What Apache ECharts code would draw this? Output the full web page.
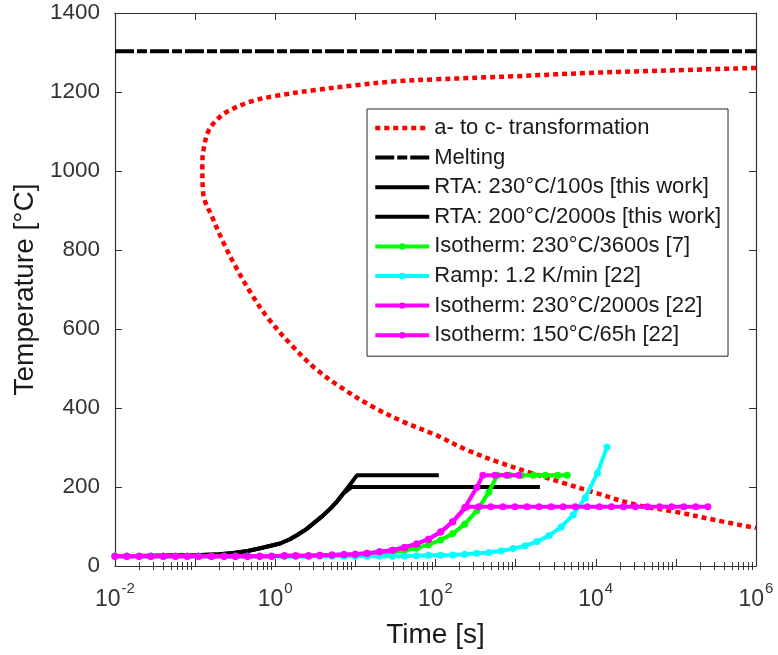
<!DOCTYPE html>
<html><head><meta charset="utf-8">
<script src="https://cdn.jsdelivr.net/npm/echarts@6/dist/echarts.min.js"></script>
<style>html,body{margin:0;padding:0;background:#fff}#c{width:778px;height:655px}</style>
</head><body><div id="c"></div>
<script>
// ---------------- DATA ----------------
const seriesNames = [
  'a- to c- transformation',
  'Melting',
  'RTA: 230°C/100s [this work]',
  'RTA: 200°C/2000s [this work]',
  'Isotherm: 230°C/3600s [7]',
  'Ramp: 1.2 K/min [22]',
  'Isotherm: 230°C/2000s [22]',
  'Isotherm: 150°C/65h [22]'
];

// a- to c- transformation curve (upper branch -> nose -> lower branch)
const transTime = [1e6, 1e5, 1e4, 1000, 100, 31.6, 10, 3.16, 1, 0.5, 0.25, 0.178, 0.145, 0.129, 0.123,
  0.126, 0.166, 0.224, 0.316, 0.5, 0.794, 1.58, 3.16, 6.31, 15.8, 39.8, 100, 251, 631, 1585, 3981, 1e4, 31623, 1e5, 316228, 1e6];
const transTemp = [1261, 1255, 1249, 1240, 1232, 1227, 1217, 1205, 1190, 1176, 1150, 1125, 1099, 1060, 1020,
  944, 880, 820, 760, 690, 630, 560, 500, 455, 405, 365, 332, 293, 262, 235, 210, 185, 155, 137, 116, 96];

const meltTime = [0.01, 1e6];
const meltTemp = [1303, 1303];

const rta230Time = [0.01, 0.1, 0.2, 0.3, 0.45, 0.65, 1.15, 1.5, 1.86, 2.4, 3.0, 3.9, 4.9, 6.0, 7.1, 8.5, 10.5, 110];
const rta230Temp = [25, 27, 30, 33, 38, 45, 57, 67, 78, 92, 108, 127, 146, 165, 184, 205, 230, 230];

const rta200Time = [0.01, 0.1, 0.2, 0.3, 0.45, 0.65, 1.15, 1.5, 1.86, 2.4, 3.0, 3.9, 4.9, 6.0, 7.1, 9.0, 2009];
const rta200Temp = [25, 27, 30, 33, 38, 45, 57, 67, 78, 92, 108, 127, 146, 165, 184, 200, 200];

const iso230_7Time = [0.01, 0.014, 0.02, 0.028, 0.04, 0.057, 0.08, 0.11, 0.16, 0.23, 0.32, 0.45, 0.64, 0.9, 1.3, 1.8, 2.6, 3.6, 5.1, 7.2, 10, 14, 20, 29, 41, 58, 82, 116, 164, 232, 328, 463, 590, 834, 1180, 1670, 2360, 3340, 4400];
const iso230_7Temp = [25, 25, 25, 25, 25, 25, 25, 25, 25, 25, 25, 25, 25, 25, 25, 25, 25, 26, 26, 27, 28, 30, 32, 35, 39, 45, 54, 66, 82, 106, 140, 187, 230, 230, 230, 230, 230, 230, 230];

const rampTime = [0.01, 0.014, 0.02, 0.028, 0.04, 0.057, 0.08, 0.11, 0.16, 0.23, 0.32, 0.45, 0.64, 0.9, 1.3, 1.8, 2.6, 3.6, 5.1, 7.2, 10, 14, 20, 29, 41, 58, 82, 116, 164, 232, 328, 463, 655, 927, 1311, 1854, 2621, 3707, 5243, 7415, 10486, 13800];
const rampTemp = [25, 25, 25, 25, 25, 25, 25, 25, 25, 25, 25, 25, 25, 25, 25, 25, 25, 25, 25, 25, 25, 25, 25, 25, 25, 26, 27, 27, 28, 30, 32, 34, 38, 44, 51, 62, 77, 99, 130, 173, 235, 301];

const iso230_22Time = [0.01, 0.014, 0.02, 0.028, 0.04, 0.057, 0.08, 0.11, 0.16, 0.23, 0.32, 0.45, 0.64, 0.9, 1.3, 1.8, 2.6, 3.6, 5.1, 7.2, 10, 14, 20, 29, 41, 58, 82, 116, 164, 232, 328, 390, 550, 776, 1100];
const iso230_22Temp = [25, 25, 25, 25, 25, 25, 25, 25, 25, 25, 25, 25, 25, 25, 26, 26, 26, 27, 28, 29, 30, 32, 36, 40, 47, 56, 68, 86, 112, 148, 199, 230, 230, 230, 230];

const iso150Time = [0.01, 0.014, 0.02, 0.028, 0.04, 0.057, 0.08, 0.11, 0.16, 0.23, 0.32, 0.45, 0.64, 0.9, 1.3, 1.8, 2.6, 3.6, 5.1, 7.2, 10, 14, 20, 29, 41, 58, 82, 116, 164, 245, 346, 490, 693, 980, 1386, 1960, 2772, 3920, 5544, 7840, 11088, 15680, 22176, 31360, 44352, 62720, 88704, 125440, 177408, 250880];
const iso150Temp = [25, 25, 25, 25, 25, 25, 25, 25, 25, 25, 25, 25, 25, 25, 26, 26, 26, 27, 28, 29, 30, 32, 36, 40, 47, 56, 68, 86, 112, 150, 150, 150, 150, 150, 150, 150, 150, 150, 150, 150, 150, 150, 150, 150, 150, 150, 150, 150, 150, 150];

const xLabelValues = [0.01, 1, 100, 10000, 1000000];
const xMajorTicks = [0.01, 0.1, 1, 10, 100, 1000, 10000, 100000, 1000000];
const xMinorMultipliers = [2, 3, 4, 5, 6, 7, 8, 9];
const yMin = 0, yMax = 1400, yStep = 200;

// ---------------- CHART ----------------
const FONT = "'Liberation Sans', Arial, Helvetica, sans-serif";
const AX = '#333333';
const xMinorTicks = [];
xMajorTicks.slice(0, -1).forEach(d => xMinorMultipliers.forEach(m => xMinorTicks.push(+(d * m).toPrecision(3))));

const pairs = (t, v) => t.map((x, i) => [x, v[i]]);
const axisLine = {show: true, onZero: false, lineStyle: {color: AX, width: 1.2}};

function xAx(position, ticks, len, withLine, withLabel) {
  const a = {
    type: 'log', logBase: 10, min: 0.01, max: 1e6, position: position, gridIndex: 0,
    axisLine: withLine ? axisLine : {show: false},
    axisTick: {show: true, inside: true, length: len, customValues: ticks, lineStyle: {color: AX, width: 1}},
    axisLabel: {show: false},
    splitLine: {show: false}, minorTick: {show: false}, minorSplitLine: {show: false}
  };
  if (withLabel) {
    a.axisLabel = {
      show: true, customValues: xLabelValues, margin: 15,
      formatter: v => '{b|10}{s|' + Math.round(Math.log10(v)) + '}',
      rich: {
        b: {fontSize: 23, fontFamily: FONT, color: AX, verticalAlign: 'bottom', lineHeight: 30},
        s: {fontSize: 15, fontFamily: FONT, color: AX, verticalAlign: 'top', lineHeight: 30, padding: [0, 0, 0, 1]}
      }
    };
    a.name = 'Time [s]';
    a.nameLocation = 'middle';
    a.nameGap = 55;
    a.nameTextStyle = {fontSize: 28, fontFamily: FONT, color: '#1a1a1a'};
  }
  return a;
}

const W = 4;
const lineSeries = (name, t, v, color, width, dash, marker, z, smooth) => ({
  name: name, type: 'line', xAxisIndex: 0, yAxisIndex: 0,
  data: pairs(t, v), z: z, smooth: smooth || false,
  symbol: marker ? 'circle' : 'none', symbolSize: marker ? 7 : 0, showSymbol: !!marker,
  itemStyle: {color: color},
  lineStyle: {color: color, width: width, type: dash || 'solid', cap: 'butt', join: 'round'},
  animation: false, silent: true, clip: true
});

const legendWidths = [4.5, 4, W, W, W, W, W, W];
const chart = echarts.init(document.getElementById('c'), null, {renderer: 'canvas'});
chart.setOption({
  backgroundColor: '#fff',
  animation: false,
  textStyle: {fontFamily: FONT},
  grid: {left: 115, right: 22, top: 13, bottom: 89, containLabel: false},
  xAxis: [
    xAx('bottom', xMajorTicks, 7, true, true),
    xAx('bottom', xMinorTicks, 4, false, false),
    xAx('top', xMajorTicks, 7, true, false),
    xAx('top', xMinorTicks, 4, false, false)
  ],
  yAxis: [
    {type: 'value', min: yMin, max: yMax, interval: yStep, position: 'left',
     axisLine: axisLine, axisTick: {inside: true, length: 7, lineStyle: {color: AX}},
     axisLabel: {fontSize: 22.5, color: AX, margin: 15, fontFamily: FONT, formatter: v => String(v)},
     splitLine: {show: false},
     name: 'Temperature [°C]', nameLocation: 'middle', nameGap: 72,
     nameTextStyle: {fontSize: 28, fontFamily: FONT, color: '#1a1a1a'}},
    {type: 'value', min: yMin, max: yMax, interval: yStep, position: 'right',
     axisLine: axisLine, axisTick: {inside: true, length: 7, lineStyle: {color: AX}},
     axisLabel: {show: false}, splitLine: {show: false}}
  ],
  legend: {
    left: 367, top: 109, orient: 'vertical', selectedMode: false,
    backgroundColor: '#fff', borderColor: '#262626', borderWidth: 1,
    padding: [8, 7, 10, 6], itemWidth: 54, itemHeight: 8, itemGap: 7.6,
    textStyle: {fontSize: 22, lineHeight: 22, fontFamily: FONT, color: '#1a1a1a'},
    data: seriesNames.map((n, i) => (i < 4
      ? {name: n, itemStyle: {opacity: 0}, lineStyle: {width: legendWidths[i]}}
      : {name: n, lineStyle: {width: legendWidths[i]}}))
  },
  series: [
    lineSeries(seriesNames[0], transTime, transTemp, '#ff0000', 4.5, [5, 4], false, 2, 0.35),
    lineSeries(seriesNames[1], meltTime, meltTemp, '#000000', 4, [19, 3, 10, 3], false, 3),
    lineSeries(seriesNames[2], rta230Time, rta230Temp, '#000000', W, null, false, 4),
    lineSeries(seriesNames[3], rta200Time, rta200Temp, '#000000', W, null, false, 5),
    lineSeries(seriesNames[4], iso230_7Time, iso230_7Temp, '#00ff00', W, null, true, 6),
    lineSeries(seriesNames[5], rampTime, rampTemp, '#00ffff', W, null, true, 7),
    lineSeries(seriesNames[6], iso230_22Time, iso230_22Temp, '#ff00ff', W, null, true, 8),
    lineSeries(seriesNames[7], iso150Time, iso150Temp, '#ff00ff', W, null, true, 9)
  ]
});
</script></body></html>
